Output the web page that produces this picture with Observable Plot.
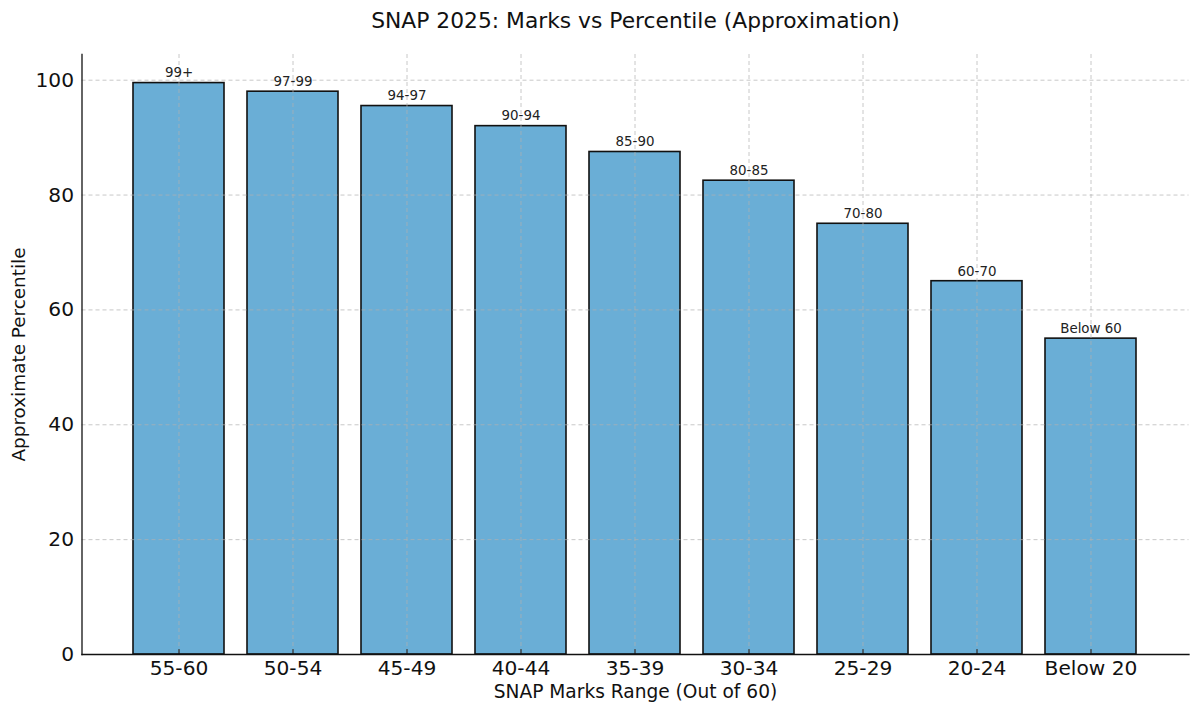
<!DOCTYPE html>
<html>
<head>
<meta charset="utf-8">
<script src="https://cdn.jsdelivr.net/npm/d3@7"></script>
<script src="https://cdn.jsdelivr.net/npm/@observablehq/plot@0.6"></script>
<style>
  html, body { margin: 0; padding: 0; background: #fff; }
  #chart { width: 1200px; height: 716px; }
</style>
</head>
<body>
<div id="chart"></div>
<script>
const categories = ["55-60", "50-54", "45-49", "40-44", "35-39", "30-34", "25-29", "20-24", "Below 20"];
const percentiles = [99.5, 98, 95.5, 92, 87.5, 82.5, 75, 65, 55];
const barLabels = ["99+", "97-99", "94-97", "90-94", "85-90", "80-85", "70-80", "60-70", "Below 60"];
const yTicks = [0, 20, 40, 60, 80, 100];

const titleText = "SNAP 2025: Marks vs Percentile (Approximation)";
const xLabel = "SNAP Marks Range (Out of 60)";
const yLabel = "Approximate Percentile";

const data = categories.map((c, i) => ({range: c, pct: percentiles[i], label: barLabels[i]}));

const tickShapeUp = {draw(ctx, l) { ctx.moveTo(0, 0); ctx.lineTo(0, -l); }};
const tickShapeRight = {draw(ctx, l) { ctx.moveTo(0, 0); ctx.lineTo(l, 0); }};

const font = "DejaVu Sans, sans-serif";

const chart = Plot.plot({
  width: 1200,
  height: 716,
  marginTop: 54,
  marginBottom: 62,
  marginLeft: 81.5,
  marginRight: 11.5,
  style: {fontFamily: font, background: "#fff"},
  x: {domain: categories, paddingInner: 0.2, paddingOuter: 0.44, align: 0.5, label: null},
  y: {domain: [0, d3.max(percentiles) * 1.05], label: null},
  marks: [
    Plot.barY(data, {x: "range", y: "pct", fill: "#6aaed6", stroke: "#111", strokeWidth: 1.6}),
    Plot.gridY(yTicks, {stroke: "#b0b0b0", strokeOpacity: 0.7, strokeDasharray: "4,3", strokeWidth: 1}),
    Plot.gridX(categories, {stroke: "#b0b0b0", strokeOpacity: 0.7, strokeDasharray: "4,3", strokeWidth: 1}),
    Plot.text(data, {x: "range", y: "pct", text: "label", dy: -10, fontSize: 13.4, fill: "#222", lineAnchor: "middle"}),
    Plot.axisY(yTicks, {tickSize: 0, tickPadding: 8, fontSize: 20.2, fill: "#111", label: null}),
    Plot.axisX(categories, {tickSize: 0, tickPadding: 6, fontSize: 20.2, fill: "#111", label: null}),
    Plot.vector(categories, {x: d => d, y: () => 0, length: 5, rotate: 0, anchor: "start", shape: tickShapeUp, stroke: "#111", strokeWidth: 1}),
    Plot.vector(yTicks, {x: () => 0, y: d => d, length: 5, rotate: 0, anchor: "start", shape: tickShapeRight, stroke: "#111", strokeWidth: 1, frameAnchor: "left"}),
    Plot.frame({anchor: "left", stroke: "#111", strokeWidth: 1.3}),
    Plot.frame({anchor: "bottom", stroke: "#111", strokeWidth: 1.3}),
    Plot.text([titleText], {frameAnchor: "top", dy: -33, fontSize: 21.8, fill: "#111", lineAnchor: "middle"}),
    Plot.text([xLabel], {frameAnchor: "bottom", dy: 38, fontSize: 18.6, fill: "#111", lineAnchor: "middle"}),
    Plot.text([yLabel], {frameAnchor: "left", textAnchor: "middle", dx: -62.5, rotate: -90, fontSize: 18.4, fill: "#111", lineAnchor: "middle"})
  ]
});
document.getElementById("chart").appendChild(chart);
</script>
</body>
</html>
